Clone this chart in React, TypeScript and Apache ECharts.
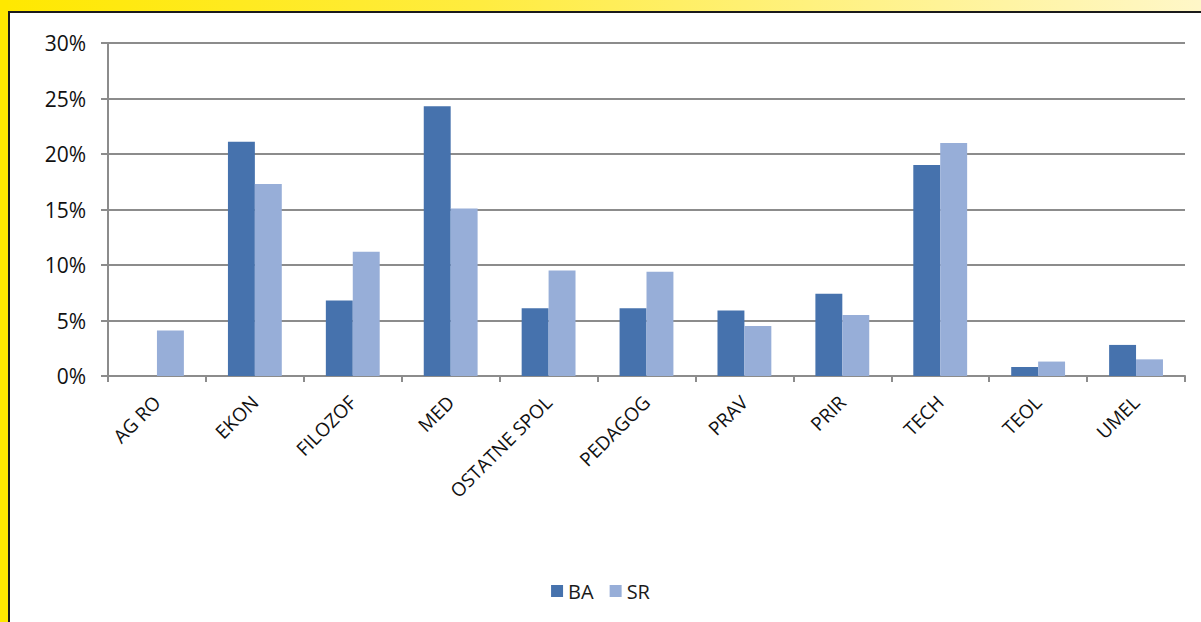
import React, { useEffect, useRef } from "react";
import * as echarts from "echarts";

const categories = ["AG RO", "EKON", "FILOZOF", "MED", "OSTATNE SPOL", "PEDAGOG", "PRAV", "PRIR", "TECH", "TEOL", "UMEL"];
const baValues = [0, 21.1, 6.8, 24.3, 6.1, 6.1, 5.9, 7.4, 19.0, 0.8, 2.8];
const srValues = [4.1, 17.3, 11.2, 15.1, 9.5, 9.4, 4.5, 5.5, 21.0, 1.3, 1.5];
const seriesNames = ["BA", "SR"];

export default function App() {
  const ref = useRef<HTMLDivElement>(null);
  useEffect(() => {
    if (!ref.current) return;
    const chart = echarts.init(ref.current, null, { renderer: "svg" });
    const font = "'Open Sans', Lato, sans-serif";
    chart.setOption({
      animation: false,
      textStyle: { fontFamily: font },
      grid: { left: 108, right: 16, top: 43, bottom: 246, containLabel: false },
      legend: {
        data: seriesNames,
        bottom: 16,
        left: "center",
        itemWidth: 12,
        itemHeight: 12,
        itemGap: 16,
        icon: "rect",
        textStyle: { fontSize: 20, color: "#1a1a1a", fontFamily: font },
      },
      xAxis: {
        type: "category",
        data: categories,
        axisLine: { show: true, lineStyle: { color: "#8c8c8c", width: 2 } },
        axisTick: { show: true, length: 6, alignWithLabel: false, lineStyle: { color: "#8c8c8c", width: 2 } },
        axisLabel: { rotate: 45, margin: 23, fontSize: 19, color: "#111", fontFamily: font, interval: 0 },
      },
      yAxis: {
        type: "value",
        min: 0,
        max: 30,
        interval: 5,
        axisLine: { show: true, lineStyle: { color: "#8c8c8c", width: 2 } },
        axisTick: { show: true, length: 7, lineStyle: { color: "#8c8c8c", width: 2 } },
        splitLine: { show: true, lineStyle: { color: "#8c8c8c", width: 2 } },
        axisLabel: { formatter: "{value}%", fontSize: 21, color: "#111", margin: 22, fontFamily: font },
      },
      series: [
        {
          name: seriesNames[0],
          type: "bar",
          data: baValues,
          barGap: "0%",
          barCategoryGap: "45%",
          itemStyle: { color: "#4672ad" },
        },
        {
          name: seriesNames[1],
          type: "bar",
          data: srValues,
          barGap: "0%",
          barCategoryGap: "45%",
          itemStyle: { color: "#97aed8" },
        },
      ],
    });
    return () => chart.dispose();
  }, []);

  return (
    <div style={{ position: "fixed", left: 0, top: 0, width: 1201, height: 622, background: "#fff", overflow: "hidden" }}>
      <div style={{ position: "absolute", left: 0, top: 0, width: 1201, height: 11, background: "linear-gradient(to right, #ffe800 0%, #ffec40 40%, #fff7c8 100%)" }} />
      <div style={{ position: "absolute", left: 0, top: 0, width: 8, height: 622, background: "#ffe800" }} />
      <div style={{ position: "absolute", left: 8, top: 11, width: 1193, height: 2, background: "#1a1a1a" }} />
      <div style={{ position: "absolute", left: 8, top: 11, width: 2, height: 611, background: "#1a1a1a" }} />
      <div ref={ref} style={{ position: "absolute", left: 0, top: 0, width: 1201, height: 622 }} />
    </div>
  );
}
